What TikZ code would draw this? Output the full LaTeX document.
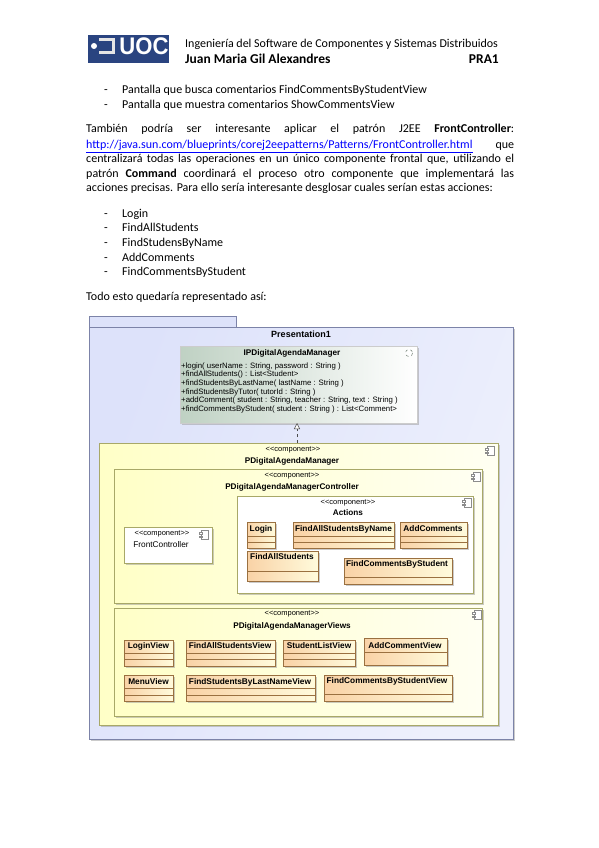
\documentclass[tikz,border=0pt]{standalone}
\usepackage{fontspec}
\setmainfont{Carlito}
\newfontfamily\umlfont{Liberation Sans}
\usetikzlibrary{fit,arrows.meta,shadows}
\definecolor{pkgblue}{HTML}{DDE2FA}
\definecolor{pkgline}{HTML}{7C83A8}
\definecolor{ylwline}{HTML}{A8A868}
\definecolor{clsline}{HTML}{9A7040}
\definecolor{navy}{HTML}{2A4480}
\definecolor{ifgreen}{HTML}{BFD1C3}
\definecolor{clsleft}{HTML}{F9D2A6}
\definecolor{clsright}{HTML}{FFFBDC}
\tikzset{
  x=1pt,y=-1pt,
  boxbase/.style={inner sep=0pt,outer sep=0pt,line width=.8pt},
  softshadow/.style={drop shadow={shadow xshift=1.5pt,shadow yshift=-1.5pt,fill=black!40}},
  pkgbox/.style={boxbase,draw=pkgline,left color=pkgblue,right color=pkgblue!50,shading angle=70,softshadow},
  ifacebox/.style={boxbase,draw=black!20,left color=ifgreen,right color=white,softshadow},
  ylwbox/.style={boxbase,draw=ylwline,left color=yellow!22,right color=yellow!5,softshadow},
  whitebox/.style={boxbase,draw=ylwline,fill=white,softshadow},
  clsbox/.style={boxbase,draw=clsline,left color=clsleft,right color=clsright,softshadow},
  cline/.style={draw=clsline,line width=.6pt},
  stereo/.style={font=\umlfont\fontsize{7.5}{8}\selectfont,inner sep=0pt},
  umlname/.style={font=\umlfont\bfseries\fontsize{8.2}{9}\selectfont,inner sep=0pt},
  clsname/.style={font=\umlfont\bfseries\fontsize{8.3}{9}\selectfont,inner sep=0pt,yshift=-1pt,execute at begin node=\strut},
  oper/.style={font=\umlfont\fontsize{7.8}{8}\selectfont,inner sep=0pt,anchor=west},
  doc/.style={font=\fontsize{12}{14}\selectfont,inner sep=0pt,anchor=west,yshift=-2pt,execute at begin node=\strut},
  iconline/.style={draw=black!45,line width=.5pt,fill=white},
  realize/.style={draw=black!70,line width=.5pt,dashed,-{Triangle[open,fill=white,length=6pt,width=6pt]}}
}
\newcommand{\umlbox}[6]{\node[fit={(#2,#3)(#4,#5)},#6] (#1) {};}
\newcommand{\hcomp}[2]{\draw[cline] (#1.west |- 0,#2) -- (#1.east |- 0,#2);}
\newcommand{\compicon}[2]{%
  \draw[iconline] (#1-3,#2-4.5) rectangle (#1+4,#2+4.5);
  \draw[iconline] (#1-4.5,#2-2.5) rectangle (#1-1.5,#2-.8);
  \draw[iconline] (#1-4.5,#2+.8) rectangle (#1-1.5,#2+2.5);}
\newcommand{\dline}[3]{\node[doc] (#1) at (86,#2) {\hbox to 428pt{#3}};}
\begin{document}
\begin{tikzpicture}
\useasboundingbox (0,0) rectangle (599,848);
\fill[white] (0,0) rectangle (599,848);
% logo
\node[fit={(88,35)(169,63)},inner sep=0pt,fill=navy] (logo) {};
\fill[white] (94,46) circle (3);
\fill[black!10] (99,38) rectangle (115,54);
\fill[navy] (99,41) rectangle (112,51);
\node[inner sep=0pt,text=white,font=\umlfont\bfseries\fontsize{24}{25}\selectfont] (uoc) at (144,46.5) {\scalebox{.92}[1]{UOC}};
% header
\node[doc] (h1) at (185,43) {Ingeniería del Software de Componentes y Sistemas Distribuidos};
\node[doc,font=\bfseries\fontsize{13.5}{14}\selectfont] (h2) at (185,59) {Juan Maria Gil Alexandres};
\node[doc,font=\bfseries\fontsize{13.5}{14}\selectfont,anchor=east] (h3) at (499,59) {PRA1};
% text
\node[doc] (d1) at (104,89) {-}; \node[doc] (t1) at (122,89) {Pantalla que busca comentarios FindCommentsByStudentView};
\node[doc] (d2) at (104,104) {-}; \node[doc] (t2) at (122,104) {Pantalla que muestra comentarios ShowCommentsView};
\dline{p1}{128}{También podría ser interesante aplicar el patrón J2EE \textbf{FrontController}:}
\dline{p2}{143.5}{\textcolor{blue}{\underline{http://java.sun.com/blueprints/corej2eepatterns/Patterns/FrontController.html}}\hfill que}
\dline{p3}{158}{centralizará todas las operaciones en un único componente frontal que, utilizando el}
\dline{p4}{172.5}{patrón \textbf{Command} coordinará el proceso otro componente que implementará las}
\node[doc] (p5) at (86,187) {acciones precisas. Para ello sería interesante desglosar cuales serían estas acciones:};
\node[doc] (d3) at (104,213) {-}; \node[doc] (l1) at (122,213) {Login};
\node[doc] (d4) at (104,227) {-}; \node[doc] (l2) at (122,227) {FindAllStudents};
\node[doc] (d5) at (104,242) {-}; \node[doc] (l3) at (122,242) {FindStudensByName};
\node[doc] (d6) at (104,257) {-}; \node[doc] (l4) at (122,257) {AddComments};
\node[doc] (d7) at (104,271) {-}; \node[doc] (l5) at (122,271) {FindCommentsByStudent};
\node[doc] (todo) at (86,296) {Todo esto quedaría representado así:};
% package
\umlbox{tab}{89}{316}{236}{327}{boxbase,draw=pkgline,fill=pkgblue}
\umlbox{pkg}{89}{327}{513}{739}{pkgbox}
\node[umlname,font=\umlfont\bfseries\fontsize{9}{10}\selectfont] (pkgname) at (301,334) {Presentation1};
% interface
\umlbox{iface}{180}{346}{417}{423}{ifacebox}
\node[umlname] (ifacename) at (292,353) {IPDigitalAgendaManager};
\draw[draw=ifgreen!70!black,dashed,line width=.6pt,fill=white] (409,353) circle (3.6);
\node[oper] (o1) at (181,366) {+login( userName : String, password : String )};
\node[oper] (o2) at (181,374.7) {+findAllStudents() : List<Student>};
\node[oper] (o3) at (181,383.4) {+findStudentsByLastName( lastName : String )};
\node[oper] (o4) at (181,392.1) {+findStudentsByTutor( tutorId : String )};
\node[oper] (o5) at (181,400.8) {+addComment( student : String, teacher : String, text : String )};
\node[oper] (o6) at (181,409.5) {+findCommentsByStudent( student : String ) : List<Comment>};
% outer component
\umlbox{mgr}{99}{443}{498}{725}{ylwbox}
\node[stereo] (s1) at (293,450) {<{}<component>{}>};
\node[umlname] (n1) at (292,461) {PDigitalAgendaManager};
\compicon{490}{451}
\draw[realize] (mgr.north -| 297,0) -- (iface.south -| 297,0);
% controller
\umlbox{ctl}{114}{469}{482}{603}{ylwbox}
\node[stereo] (s2) at (292,476) {<{}<component>{}>};
\node[umlname] (n2) at (292,487) {PDigitalAgendaManagerController};
\compicon{476}{477}
% actions
\umlbox{act}{237}{496}{473}{593}{whitebox}
\node[stereo] (s3) at (348,503) {<{}<component>{}>};
\node[umlname] (n3) at (348,513) {Actions};
\compicon{467}{503}
% front controller
\umlbox{front}{124}{527}{212}{563}{whitebox}
\node[stereo] (s4) at (162,534) {<{}<component>{}>};
\node[umlname,font=\umlfont\fontsize{8.3}{9}\selectfont] (n4) at (161,545) {FrontController};
\compicon{204}{535}
% action classes
\umlbox{login}{247}{522}{275}{548}{clsbox}
\hcomp{login}{536}\hcomp{login}{542}
\node[clsname] (n5) at (261,529) {Login};
\umlbox{fabn}{293}{522}{394}{548}{clsbox}
\hcomp{fabn}{536}\hcomp{fabn}{542}
\node[clsname] (n6) at (343.5,529) {FindAllStudentsByName};
\umlbox{addc}{400}{522}{467}{548}{clsbox}
\hcomp{addc}{536}\hcomp{addc}{542}
\node[clsname] (n7) at (433,529) {AddComments};
\umlbox{fas}{247}{551}{318}{581}{clsbox}
\hcomp{fas}{571}
\node[clsname] (n8) at (282,557) {FindAllStudents};
\umlbox{fcbs}{344}{558}{452}{584}{clsbox}
\hcomp{fcbs}{577}
\node[clsname] (n9) at (397,564) {FindCommentsByStudent};
% views
\umlbox{views}{114}{608}{482}{716}{ylwbox}
\node[stereo] (s5) at (292,614) {<{}<component>{}>};
\node[umlname] (n10) at (292,626) {PDigitalAgendaManagerViews};
\compicon{477}{615}
\umlbox{vlogin}{124}{640}{173}{666}{clsbox}
\hcomp{vlogin}{653}\hcomp{vlogin}{659}
\node[clsname] (n11) at (148.5,646) {LoginView};
\umlbox{vfas}{186}{640}{275}{666}{clsbox}
\hcomp{vfas}{653}\hcomp{vfas}{659}
\node[clsname] (n12) at (230,646) {FindAllStudentsView};
\umlbox{vsl}{283}{640}{355}{666}{clsbox}
\hcomp{vsl}{653}\hcomp{vsl}{659}
\node[clsname] (n13) at (319,646) {StudentListView};
\umlbox{vadd}{364}{638}{447}{665}{clsbox}
\hcomp{vadd}{652}
\node[clsname] (n14) at (405,646) {AddCommentView};
\umlbox{vmenu}{124}{675}{173}{701}{clsbox}
\hcomp{vmenu}{688}\hcomp{vmenu}{695}
\node[clsname] (n15) at (148.5,682) {MenuView};
\umlbox{vfsl}{186}{675}{315}{701}{clsbox}
\hcomp{vfsl}{688}\hcomp{vfsl}{695}
\node[clsname] (n16) at (250,682) {FindStudentsByLastNameView};
\umlbox{vfcs}{324}{675}{452}{701}{clsbox}
\hcomp{vfcs}{694}
\node[clsname] (n17) at (387,681) {FindCommentsByStudentView};
\end{tikzpicture}
\end{document}
